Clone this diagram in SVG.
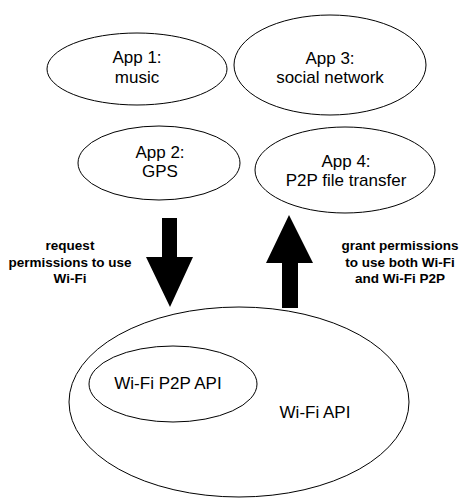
<svg xmlns="http://www.w3.org/2000/svg" width="459" height="498" viewBox="0 0 459 498">
<style>
.node ellipse{fill:#fff;stroke:#000;stroke-width:1}
.t{font-family:"Liberation Sans",Arial,sans-serif;font-size:17px;fill:#000;text-anchor:middle}
.b{font-family:"Liberation Sans",Arial,sans-serif;font-size:13.5px;font-weight:bold;fill:#000;text-anchor:middle}
.arrow{fill:#000}
</style>
<rect width="459" height="498" fill="#fff"/>
<g id="app1" class="node"><ellipse cx="137" cy="69" rx="90" ry="36"/><text class="t" x="137" y="63">App 1:</text><text class="t" x="137" y="83">music</text></g>
<g id="app3" class="node"><ellipse cx="330" cy="65" rx="96" ry="50"/><text class="t" x="330" y="64">App 3:</text><text class="t" x="330" y="83">social network</text></g>
<g id="app2" class="node"><ellipse cx="159" cy="163" rx="81" ry="37"/><text class="t" x="160" y="158">App 2:</text><text class="t" x="160" y="177">GPS</text></g>
<g id="app4" class="node"><ellipse cx="345" cy="170" rx="90" ry="43"/><text class="t" x="346" y="167">App 4:</text><text class="t" x="346" y="186">P2P file transfer</text></g>
<g id="wifi" class="node"><ellipse cx="239" cy="402" rx="170" ry="95"/><text class="t" x="315" y="418">Wi-Fi API</text></g>
<g id="wifip2p" class="node"><ellipse cx="173" cy="384" rx="84" ry="38"/><text class="t" x="168" y="389">Wi-Fi P2P API</text></g>
<g id="connectors">
<polygon class="arrow" points="162,218 177,218 177,257 193,257 170,307 146,257 162,257"/>
<polygon class="arrow" points="289,215 313,263 298,263 298,308 282,308 282,263 266,263"/>
<text class="b" x="70" y="250">request</text>
<text class="b" x="70" y="267">permissions to use</text>
<text class="b" x="70" y="283">Wi-Fi</text>
<text class="b" x="400" y="250">grant permissions</text>
<text class="b" x="400" y="267">to use both Wi-Fi</text>
<text class="b" x="400" y="283">and Wi-Fi P2P</text>
</g>
</svg>
